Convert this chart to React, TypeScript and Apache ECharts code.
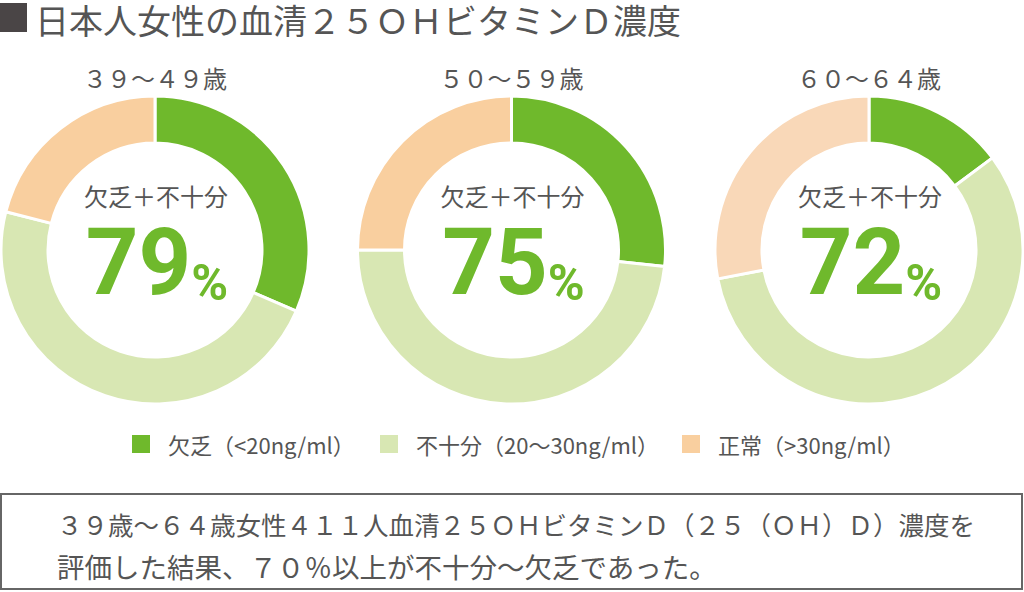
import React, { useEffect, useRef } from "react";
import * as echarts from "echarts";

const categories = ["欠乏（<20ng/ml）", "不十分（20～30ng/ml）", "正常（>30ng/ml）"];
const ageGroups = ["３９～４９歳", "５０～５９歳", "６０～６４歳"];
const deficient = [31.5, 26.7, 14.8];
const insufficient = [47.5, 48.3, 57.2];
const normal = [21, 25, 28];
const totals = ["79", "75", "72"];
const titleText = "日本人女性の血清２５ＯＨビタミンＤ濃度";
const centerLabel = "欠乏＋不十分";
const noteLines = [
  "３９歳～６４歳女性４１１人血清２５ＯＨビタミンＤ（２５（ＯＨ）Ｄ）濃度を",
  "評価した結果、７０％以上が不十分～欠乏であった。",
];

const GREEN = "#6fb92c";
const LIGHT = "#d8e7b3";
const BEIGE = ["#f9cf9f", "#f9cf9f", "#f9d8b8"];
const TXT = "#555555";
const FONT = "'Noto Sans CJK JP', 'Noto Sans', sans-serif";
const centersX = [155, 511.5, 869];
const centerY = 250;
const noteSizes = [25.5, 27.5];
const legendLefts = [125, 373, 675];

export default function App() {
  const ref = useRef<HTMLDivElement>(null);
  useEffect(() => {
    if (!ref.current) return;
    const chart = echarts.init(ref.current, undefined, { renderer: "svg" });
    const series = ageGroups.map((g, i) => ({
      type: "pie",
      name: g,
      center: [centersX[i], centerY],
      radius: [107, 154],
      startAngle: 90,
      clockwise: true,
      label: { show: false },
      labelLine: { show: false },
      emphasis: { disabled: true },
      itemStyle: { borderColor: "#ffffff", borderWidth: 3 },
      data: [
        { name: categories[0], value: deficient[i], itemStyle: { color: GREEN } },
        { name: categories[1], value: insufficient[i], itemStyle: { color: LIGHT } },
        { name: categories[2], value: normal[i], itemStyle: { color: BEIGE[i] } },
      ],
    }));
    const graphics: any[] = [
      { type: "rect", shape: { x: 0, y: 3, width: 27, height: 29 }, style: { fill: "#4a4546" } },
      {
        type: "text", x: 35, y: 19,
        style: { text: titleText, fill: TXT, fontSize: 34, fontFamily: FONT, textAlign: "left", textVerticalAlign: "middle", verticalAlign: "middle" },
      },
      {
        type: "rect", shape: { x: 1, y: 494, width: 1021, height: 95 },
        style: { fill: "none", stroke: "#666666", lineWidth: 2 },
      },
    ];
    ageGroups.forEach((g, i) => {
      graphics.push({
        type: "text", x: centersX[i], y: 77,
        style: { text: g, fill: TXT, fontSize: 24, fontFamily: FONT, textAlign: "center", textVerticalAlign: "middle", verticalAlign: "middle" },
      });
      graphics.push({
        type: "text", x: centersX[i] + 1, y: 195,
        style: { text: centerLabel, fill: TXT, fontSize: 24, fontFamily: FONT, textAlign: "center", textVerticalAlign: "middle", verticalAlign: "middle" },
      });
      graphics.push({
        type: "text", x: centersX[i] + 2, y: 308,
        style: {
          text: `{n|${totals[i]}}{p|%}`,
          textAlign: "center", textVerticalAlign: "bottom", verticalAlign: "bottom",
          rich: {
            n: { fontSize: 92, fontWeight: "bold", fontFamily: "Roboto, sans-serif", fill: GREEN, color: GREEN, verticalAlign: "bottom", lineHeight: 72 },
            p: { fontSize: 50, fontWeight: "bold", fontFamily: "Roboto, sans-serif", fill: GREEN, color: GREEN, verticalAlign: "bottom", lineHeight: 44 },
          },
        },
      });
    });
    noteLines.forEach((t, i) => {
      graphics.push({
        type: "text", x: 57, y: 523 + i * 43,
        style: { text: t, fill: TXT, fontSize: noteSizes[i], fontFamily: FONT, textAlign: "left", textVerticalAlign: "middle", verticalAlign: "middle" },
      });
    });
    chart.setOption({
      animation: false,
      backgroundColor: "#ffffff",
      legend: categories.map((c, k) => ({
        data: [c],
        left: legendLefts[k],
        top: 428,
        icon: "rect",
        itemWidth: 20,
        itemHeight: 20,
        selectedMode: false,
        textStyle: { fontSize: 22, color: TXT, fontFamily: FONT, padding: [0, 0, 0, 12] },
      })),
      series,
      graphic: graphics,
    });
    return () => chart.dispose();
  }, []);
  return (
    <div
      ref={ref}
      style={{ position: "absolute", left: 0, top: 0, width: 1024, height: 592, background: "#fff" }}
    />
  );
}
